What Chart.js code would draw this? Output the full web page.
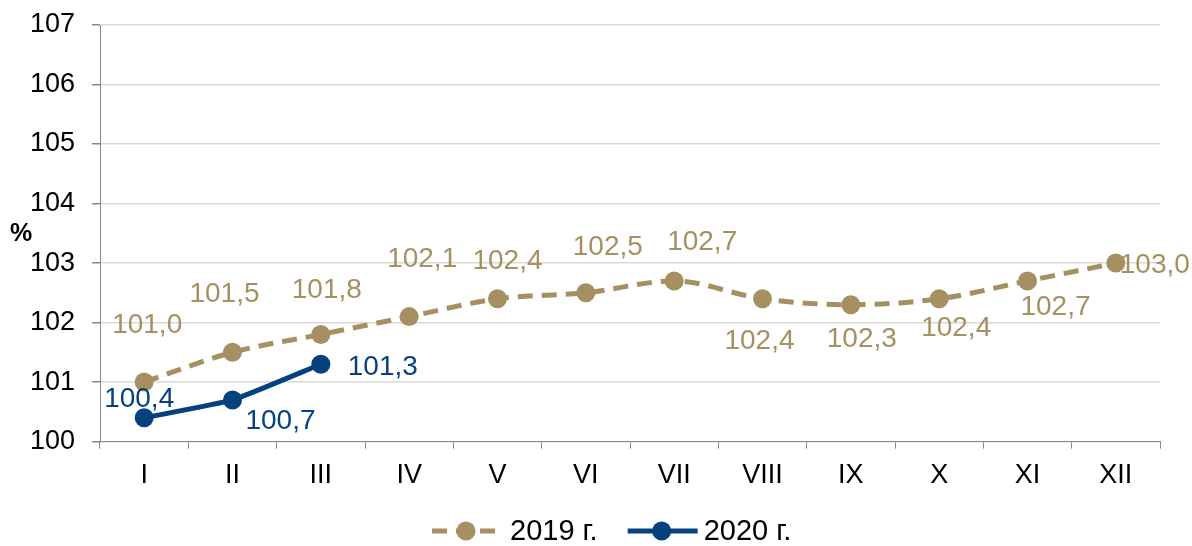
<!DOCTYPE html>
<html><head><meta charset="utf-8">
<script src="https://cdn.jsdelivr.net/npm/chart.js@4.4.0/dist/chart.umd.min.js"></script>
<style>html,body{margin:0;padding:0;background:#fff}#wrap{width:1192px;height:546px}</style>
</head><body><div id="wrap"><canvas id="c"></canvas></div>
<script>
const categories = ['I','II','III','IV','V','VI','VII','VIII','IX','X','XI','XII'];
const values2019 = [101.0,101.5,101.8,102.1,102.4,102.5,102.7,102.4,102.3,102.4,102.7,103.0];
const values2020 = [100.4,100.7,101.3];
const yTicks = [100,101,102,103,104,105,106,107];
const seriesNames = ['2019 г.','2020 г.'];

const C19 = '#A69061', C20 = '#05417F';
const FONT = '"Liberation Sans", Arial, sans-serif';
// label offsets (style only)
const off19 = [[3,-58],[-8,-59],[6,-45],[13,-58],[10,-38],[22,-47],[28,-40],[-3,42],[11,34],[17,29],[28,25],[39,1]];
const off20 = [[-5,-20],[48,20],[62,2]];

const labelPlugin = {
  id:'lbls',
  afterDatasetsDraw(chart){
    const ctx = chart.ctx;
    ctx.save();
    ctx.font = '28px ' + FONT;
    ctx.textAlign='center'; ctx.textBaseline='middle';
    [[0,C19,off19],[1,C20,off20]].forEach(([i,col,off])=>{
      const meta = chart.getDatasetMeta(i);
      meta.data.forEach((p,j)=>{
        const v = chart.data.datasets[i].data[j];
        ctx.fillStyle = col;
        ctx.fillText(v.toFixed(1).replace('.',','), p.x+off[j][0], p.y+off[j][1]+1);
      });
    });
    const ca = chart.chartArea;
    ctx.fillStyle='#000'; ctx.font='bold 25px ' + FONT;
    ctx.fillText('%', 21, (ca.top+ca.bottom)/2+1);

    // legend (line + marker + text)
    const ly = chart.height - 15;
    let x = 432;
    ctx.textAlign='left';
    ctx.font = '29px ' + FONT;
    chart.data.datasets.forEach((d,i)=>{
      const dashed = i===0;
      ctx.strokeStyle = d.borderColor; ctx.lineWidth = 5;
      ctx.setLineDash(dashed ? [15,9] : []);
      ctx.beginPath(); ctx.moveTo(x, ly); ctx.lineTo(x+(dashed?66:70), ly); ctx.stroke();
      ctx.setLineDash([]);
      ctx.fillStyle = d.borderColor;
      ctx.beginPath(); ctx.arc(x+34, ly, 9.5, 0, Math.PI*2); ctx.fill();
      const tx = x + (dashed ? 78 : 76);
      ctx.fillStyle = '#000';
      ctx.fillText(d.label, tx, ly+1);
      x = tx + ctx.measureText(d.label).width + 30;
    });
    ctx.restore();
  }
};

new Chart(document.getElementById('c'), {
  type:'line',
  data:{
    labels: categories,
    datasets:[
      {label:seriesNames[0], data:values2019, borderColor:C19, backgroundColor:C19, borderWidth:5, borderDash:[15,9], pointRadius:9.5, pointHoverRadius:9.5, pointBackgroundColor:C19, pointBorderWidth:0, tension:0.3, cubicInterpolationMode:'monotone'},
      {label:seriesNames[1], data:values2020, borderColor:C20, backgroundColor:C20, borderWidth:5, pointRadius:9.5, pointHoverRadius:9.5, pointBackgroundColor:C20, pointBorderWidth:0, tension:0.15}
    ]
  },
  options:{
    responsive:true, maintainAspectRatio:false, animation:false,
    layout:{padding:{top:25,right:32,left:0,bottom:43}},
    plugins:{ tooltip:{enabled:false}, legend:{display:false} },
    scales:{
      x:{offset:true,
        afterFit(s){ s.paddingLeft = 0; s.paddingRight = 0; },
        grid:{offset:true, drawOnChartArea:false, drawTicks:true, tickLength:7, color:'#888', tickColor:'#888'},
        border:{color:'#888', width:1},
        ticks:{color:'#000', padding:11, font:{size:27, family:FONT}}},
      y:{min:100, max:107,
        afterBuildTicks(s){ s.ticks = yTicks.map(v=>({value:v})); },
        afterFit(s){ s.width = 100; s.paddingTop = 0; s.paddingBottom = 0; },
        grid:{color:'#d9d9d9', lineWidth:1.5, tickLength:8, tickColor:'#888'},
        border:{color:'#888', width:1},
        ticks:{color:'#000', padding:17, font:{size:27, family:FONT}}}
    }
  },
  plugins:[labelPlugin]
});
</script></body></html>
